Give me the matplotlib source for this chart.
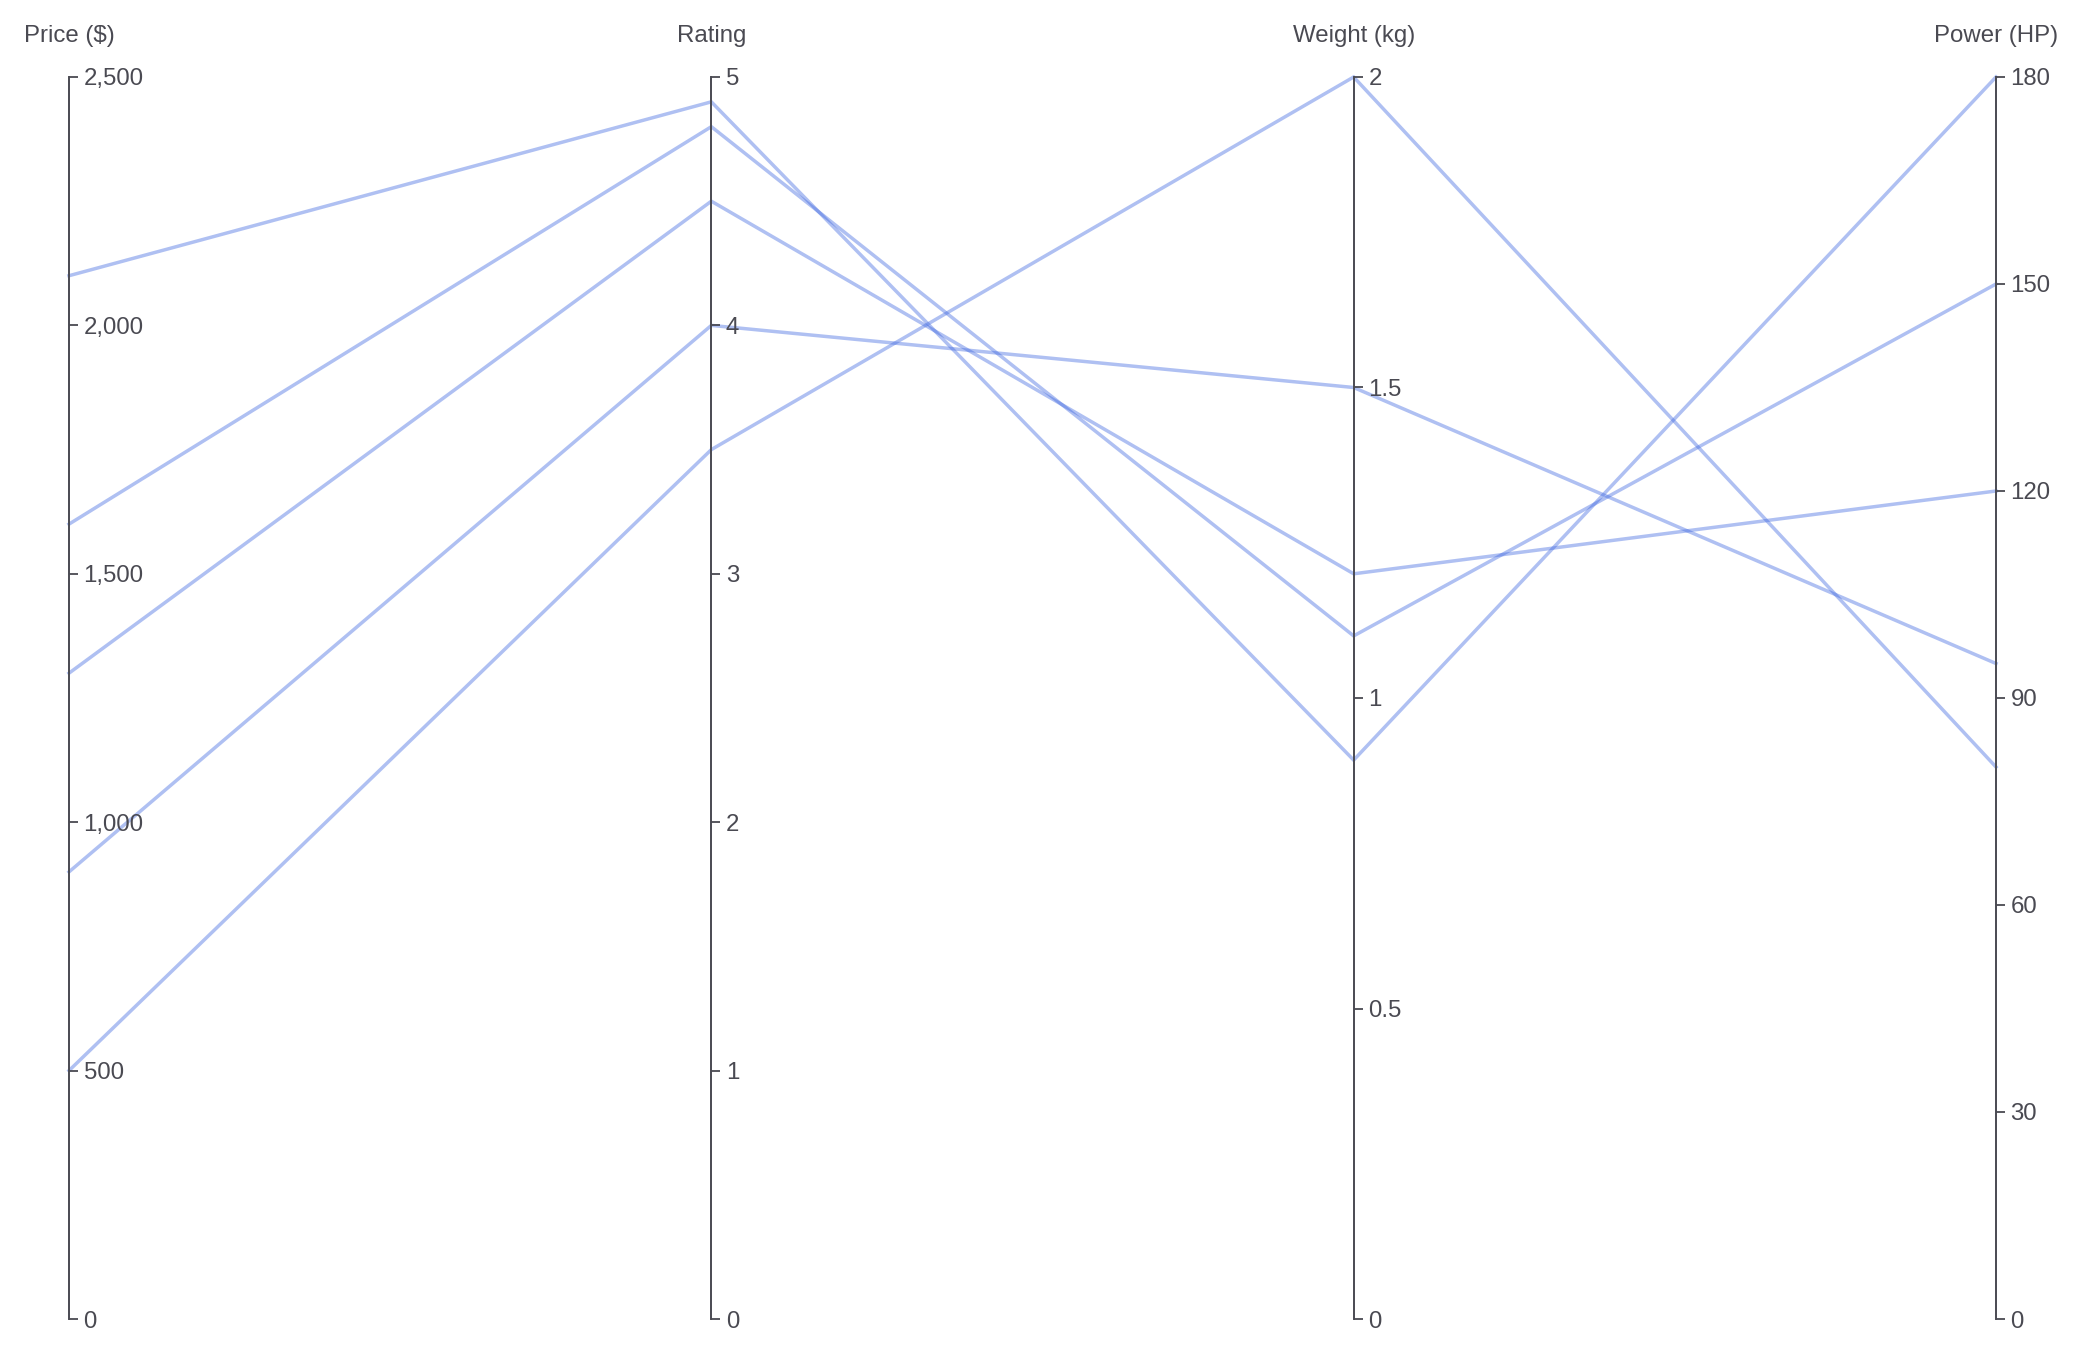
import numpy as np
import matplotlib
matplotlib.use("Agg")
import matplotlib.pyplot as plt
from matplotlib.ticker import FuncFormatter, MultipleLocator

plt.rcParams['font.family'] = ['Liberation Sans', 'DejaVu Sans']

# dimensions
dims = ['Price ($)', 'Rating', 'Weight (kg)', 'Power (HP)']
dim_max = [2500, 5, 2, 180]
dim_step = [500, 1, 0.5, 30]

# one row per product
price = [2100, 1600, 1300, 900, 500]
rating = [4.9, 4.8, 4.5, 4.0, 3.5]
weight = [0.9, 1.1, 1.2, 1.5, 2.0]
power = [180, 150, 120, 95, 80]

ink = '#4a4a52'
line_col = '#4169e1'

fig = plt.figure(figsize=(20.81, 13.54), dpi=100)
left, right = 69 / 2081, 1996 / 2081
bottom, top = 1 - 1319 / 1354, 1 - 77 / 1354
ax = fig.add_axes([left, bottom, right - left, top - bottom])
ax.set_xlim(0, len(dims) - 1)
ax.set_ylim(0, 1)
ax.axis('off')

data = np.array([price, rating, weight, power], dtype=float)
norm = data / np.array(dim_max, dtype=float)[:, None]
xs = np.arange(len(dims))
for k in range(norm.shape[1]):
    ax.plot(xs, norm[:, k], color=line_col, alpha=0.42, lw=2.5,
            solid_joinstyle='miter', clip_on=False)

fmts = [lambda v, p: f'{v:,.0f}', lambda v, p: f'{v:g}',
        lambda v, p: f'{v:g}', lambda v, p: f'{v:g}']

for i, name in enumerate(dims):
    t = ax.twinx()
    t.set_ylim(0, dim_max[i])
    for s in ['top', 'bottom', 'left']:
        t.spines[s].set_visible(False)
    t.spines['right'].set_position(('axes', i / (len(dims) - 1)))
    t.spines['right'].set_color(ink)
    t.spines['right'].set_linewidth(1.4)
    t.yaxis.set_major_locator(MultipleLocator(dim_step[i]))
    t.yaxis.set_major_formatter(FuncFormatter(fmts[i]))
    t.tick_params(axis='y', direction='out', length=6.5, width=1.3,
                  color=ink, labelcolor=ink, labelsize=17.3, pad=4)
    t.set_xticks([])
    xf = left + (right - left) * i / (len(dims) - 1)
    fig.text(xf, 1 - 36 / 1354, name, ha='center', va='center',
             fontsize=17.3, color=ink)

fig.savefig('out.png', dpi=100, facecolor='white')
